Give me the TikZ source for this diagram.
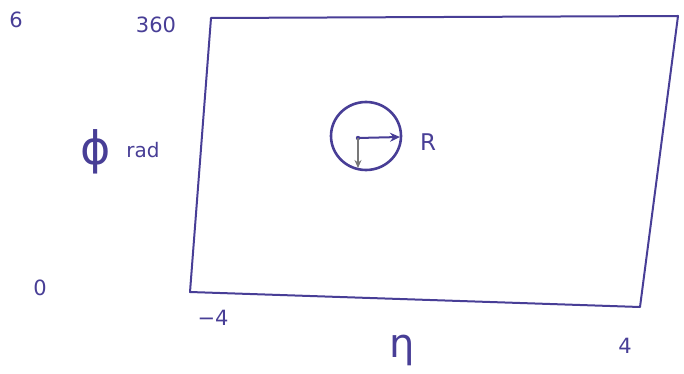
\documentclass[tikz,border=0pt]{standalone}
\usepackage{fontspec}
\setmainfont{DejaVu Sans}
\usetikzlibrary{arrows.meta,shapes.geometric}
\definecolor{ink}{RGB}{72,62,150}
\definecolor{gink}{RGB}{120,120,120}
\tikzset{
  pen/.style={draw=ink, line width=2pt, line cap=round, line join=round},
  lab/.style={text=ink, inner sep=0pt, font=\fontsize{21}{21}\selectfont},
}
\begin{document}
\begin{tikzpicture}[x=1pt,y=-1pt]
\useasboundingbox (0,0) rectangle (684,374);
% plot frame
\coordinate (tl) at (211,18);
\coordinate (tr) at (678,16);
\coordinate (br) at (640,307);
\coordinate (bl) at (190,292);
\draw[pen] (tl) -- (tr) -- (br) -- (bl) -- cycle;
% cone
\node[pen, line width=2.6pt, ellipse, minimum width=70pt, minimum height=68pt, inner sep=0pt] (cone) at (366,136) {};
\coordinate (c0) at (358,138);
\coordinate (cr) at (400,137);
\coordinate (cd) at (358,168);
\fill[ink] (c0) circle (2.2pt);
\draw[pen, -{Stealth[length=10pt,width=9pt]}] (c0) -- (cr);
\draw[draw=gink, line width=1.5pt, -{Stealth[length=8pt,width=7pt]}] (c0) -- (cd);
\node[lab, font=\fontsize{23}{23}\selectfont] (R) at (428,142) {R};
% labels
\node[lab] (six) at (16,20) {6};
\node[lab] (t360) at (156,25) {360};
\node[lab, font=\fontsize{46}{46}\selectfont] (phi) at (96,152) {ϕ};
\node[lab, font=\fontsize{20}{20}\selectfont] (rad) at (143,150) {rad};
\node[lab] (zero) at (40,288) {0};
\node[lab] (m4) at (213,318) {−4};
\node[lab, font=\fontsize{40}{40}\selectfont] (eta) at (402,350) {η};
\node[lab] (p4) at (625,346) {4};
\end{tikzpicture}
\end{document}
